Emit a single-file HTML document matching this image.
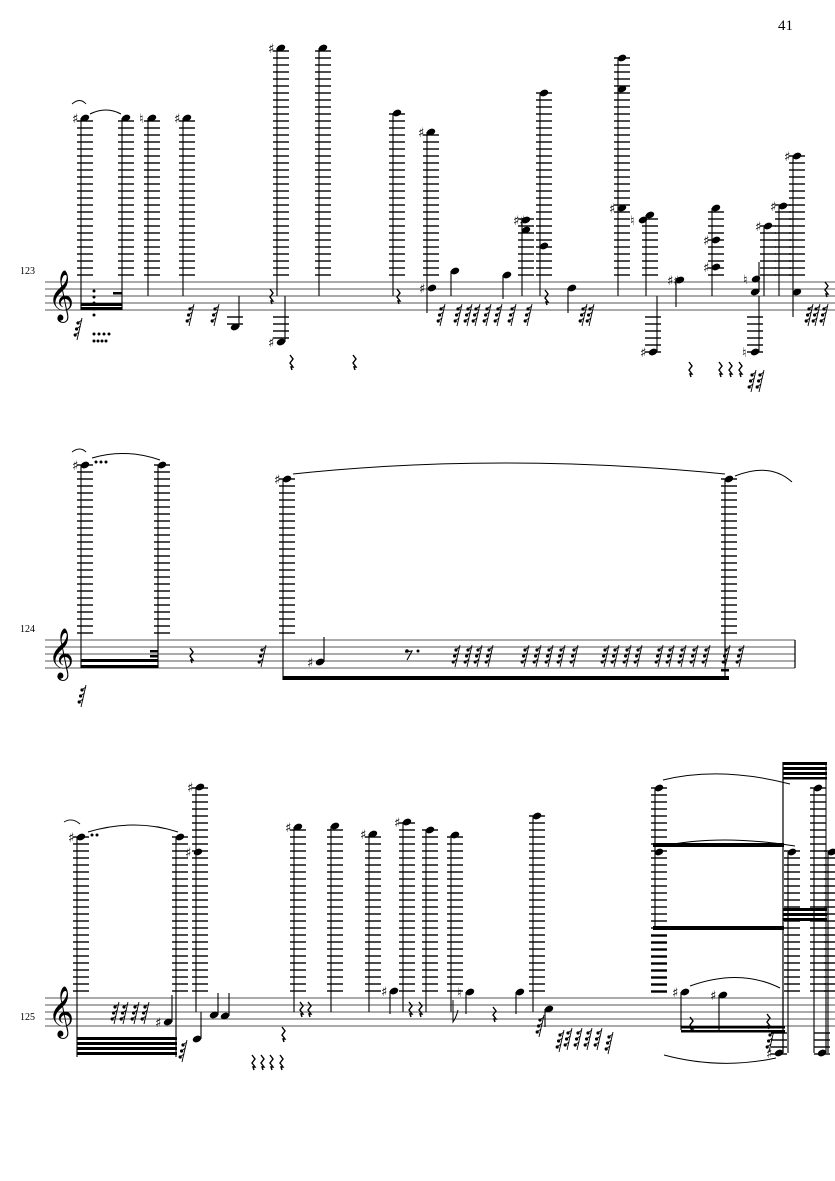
<!DOCTYPE html>
<html><head><meta charset="utf-8"><style>
html,body{margin:0;padding:0;background:#fff;width:835px;height:1181px;overflow:hidden}
svg{position:absolute;left:0;top:0}
text{font-family:"Liberation Serif",serif;fill:#000}
</style></head><body>
<svg id="s" width="835" height="1181" viewBox="0 0 835 1181">
<text x="778" y="30" font-size="15">41</text>
<text x="20" y="274" font-size="10">123</text>
<text x="20" y="632" font-size="10">124</text>
<text x="20" y="1020" font-size="10">125</text>
<g id="g" stroke="#000" fill="#000"></g>
</svg>
<script>
const g=document.getElementById('g');let h='';
function L(x1,y1,x2,y2,w,c){h+=`<line x1="${x1}" y1="${y1}" x2="${x2}" y2="${y2}" stroke-width="${w||1}" stroke="${c||'#000'}"/>`}
function R(x,y,w,hh){h+=`<rect x="${x}" y="${y}" width="${w}" height="${hh}" stroke="none"/>`}
function staff(top,x2){for(let i=0;i<5;i++)L(45,top+7*i,x2,top+7*i,1.1,'#555');
 h+=`<text x="48" y="${top+28}" font-size="44" style="font-family:'DejaVu Sans',sans-serif" stroke="none">𝄞</text>`;}
function head(x,y){h+=`<ellipse cx="${x}" cy="${y}" rx="4.4" ry="3.1" transform="rotate(-22 ${x} ${y})" stroke="none"/>`}
function acc(x,y,s){h+=`<text x="${x-13}" y="${y+5}" font-size="13" stroke="none" style="font-family:'DejaVu Sans',sans-serif">${s||'♯'}</text>`}
function hi(x,y,top,ye,a){for(let ly=top-7;ly>=y-2;ly-=7)L(x-8,ly,x+8,ly,1.4);head(x,y);L(x-4,y,x-4,ye,1.1);if(a)acc(x,y,a===1?'♯':a)}
function hx(x,y,a){head(x,y);if(a)acc(x,y,a===1?'♯':a)}
function lo(x,y,bot,ye,a){for(let ly=bot+7;ly<=y+2;ly+=7)L(x-8,ly,x+8,ly,1.4);head(x,y);L(x+4,y,x+4,ye,1.1);if(a)acc(x,y,a===1?'♯':a)}
function n(x,y,ye,a){head(x,y);L(x+(ye<y?4:-4),y,x+(ye<y?4:-4),ye,1.1);if(a)acc(x,y,a===1?'♯':a)}
function rest(x,y){h+=`<path d="M${x},${y-8} l3,4 -3,4 3,4 -2,0 1,3" fill="none" stroke-width="1.4"/>`}
function fl(x,y){L(x+2,y,x-3,y+22,0.9);for(let k=0;k<3;k++){h+=`<circle cx="${x-2-k*1.4}" cy="${y+5+k*6}" r="1.6" stroke="none"/>`;L(x-1-k*1.4,y+4+k*6,x+2-k*1.4,y+2+k*6,0.8)}}
// ===== system 1 =====
staff(282,835);
hi(85,118,282,310,1);hi(126,118,282,310);hi(152,118,282,296,'♮');hi(187,118,282,296,1);
hi(281,48,282,296,1);hi(323,48,282,296);hi(397,113,282,296);hi(431,132,282,313,1);hx(432,288,1);
hi(544,93,282,296);hx(544,246);hi(526,220,282,296,'♯♯');hx(526,230);
hi(622,58,282,296);hx(622,89);hx(622,208,1);hi(650,215,282,296);hx(643,220,'♮');
hi(716,208,282,296);hx(716,240,1);hx(716,267,1);
hi(797,156,282,296,1);hi(783,206,282,296,1);hi(768,226,282,296,1);
R(81,303,41,3);R(81,307,41,3);R(113,292,9,2.5);
for(let k=0;k<5;k++)h+=`<circle cx="94" cy="${291+k*6}" r="1"/>`;
for(let k=0;k<4;k++){h+=`<circle cx="${94+k*5}" cy="334" r="1"/><circle cx="${94+k*4}" cy="341" r="1"/>`}
fl(80,318);
for(const x of [192,217,443,460,470,478,489,500,514,530,585,592,811,818,826])fl(x,304);
for(const x of [754,762])fl(x,370);
rest(270,297);rest(290,363);rest(353,363);rest(397,297);rest(545,298);rest(689,370);rest(719,370);rest(729,370);rest(739,370);rest(825,290);
lo(235,327,310,296);lo(281,342,310,296,1);
n(455,271,296);n(507,275,299);n(572,288,313);lo(653,352,310,296,1);n(680,280,307,'♯♯');
n(755,292,262);lo(755,352,310,296,'♮');hx(756,279,'♮');n(797,292,317);
h+=`<path d="M72,104 Q80,97 86,104" fill="none" stroke-width="0.9"/><path d="M90,114 Q106,106 121,114" fill="none" stroke-width="1"/>`;
// ===== system 2 =====
staff(640,795);L(795,640,795,668,1.2);
hi(85,465,640,668,1);hi(162,465,640,668);R(81,659,77,3);R(81,665,77,3);R(150,650,8,2.5);R(150,655,8,2.5);
for(let k=0;k<3;k++)h+=`<circle cx="${96+k*5}" cy="462" r="1"/>`;
hi(287,479,640,680,1);hi(729,479,640,680);R(283,676,446,4);R(721,669,8,2.5);
h+=`<path d="M72,452 Q80,446 86,452" fill="none" stroke-width="0.9"/><path d="M92,458 Q125,448 160,460" fill="none"/><path d="M293,474 Q500,452 725,474" fill="none"/><path d="M735,476 Q770,462 792,482" fill="none"/>`;
rest(190,656);fl(264,645);n(320,662,637,1);
h+=`<path d="M405,652 L412,651 L407,660" fill="none" stroke-width="1.1"/><circle cx="407" cy="651" r="1.3"/><circle cx="418" cy="651" r="1"/>`;
for(const x of [458,470,480,491,527,539,551,563,576,607,617,629,640,661,672,684,696,708,728,742])fl(x,645);
fl(84,685);
// ===== system 3 =====
staff(998,835);
hi(81,837,998,1057,1);hi(180,837,998,1057);R(77,1037,100,3);R(77,1042,100,3);R(77,1047,100,3);R(77,1052,100,3);
h+=`<path d="M64,822 Q72,817 80,824" fill="none" stroke-width="0.9"/><path d="M88,832 Q135,818 178,832" fill="none"/>`;
for(let k=0;k<2;k++)h+=`<circle cx="${92+k*5}" cy="835" r="1"/>`;
for(const x of [117,126,137,147])fl(x,1002);n(168,1022,995,1);fl(185,1040);
hi(200,787,998,1012,1);hx(198,852,1);
n(197,1039,1012);n(214,1015,993);n(225,1016,993);
for(const x of [252,261,270,280])rest(x,1063);rest(282,1035);rest(300,1010);rest(308,1010);rest(409,1010);rest(419,1010);rest(493,1015);
hi(298,827,998,1012,1);hi(335,826,998,1012);hi(373,834,998,1012,1);hi(407,822,998,1012,1);hi(430,830,998,1012);hi(455,835,998,1012);hi(537,816,998,1012);
n(394,991,1014,1);n(470,992,1014,'♮');h+=`<path d="M453,1000 L453,1022 Q456,1018 458,1010" fill="none"/>`;n(520,992,1014);
fl(542,1015);n(549,1009,1027);
for(const x of [570,580,590,600])fl(x,1028);fl(611,1032);fl(562,1030);
hi(659,788,998,929);hx(659,852);R(653,926,131,4);R(653,843,131,4);for(let ly=936;ly<=993;ly+=7)L(651,ly,667,ly,1.4);
L(783,762,783,1053,1.2);L(826,762,826,1053,1);R(783,762,44,3);R(783,767,44,3);R(783,772,44,3);R(783,777,44,2.5);
hi(818,788,998,1053);hi(792,852,998,1053);hi(832,852,998,1053);R(783,908,44,3);R(783,913,44,3);R(783,918,44,3);
n(685,992,1030,1);n(723,995,1030,1);R(681,1026,104,2.5);R(681,1030,104,2.5);rest(690,1025);rest(767,1022);fl(772,1030);
lo(779,1053,1026,990,1);lo(822,1053,1026,995);
h+=`<path d="M663,780 Q720,766 790,784" fill="none"/><path d="M663,846 Q720,834 795,846" fill="none"/><path d="M690,986 Q740,968 780,988" fill="none"/><path d="M664,1055 Q720,1070 776,1058" fill="none"/>`;
g.innerHTML=h;
</script>
</body></html>
